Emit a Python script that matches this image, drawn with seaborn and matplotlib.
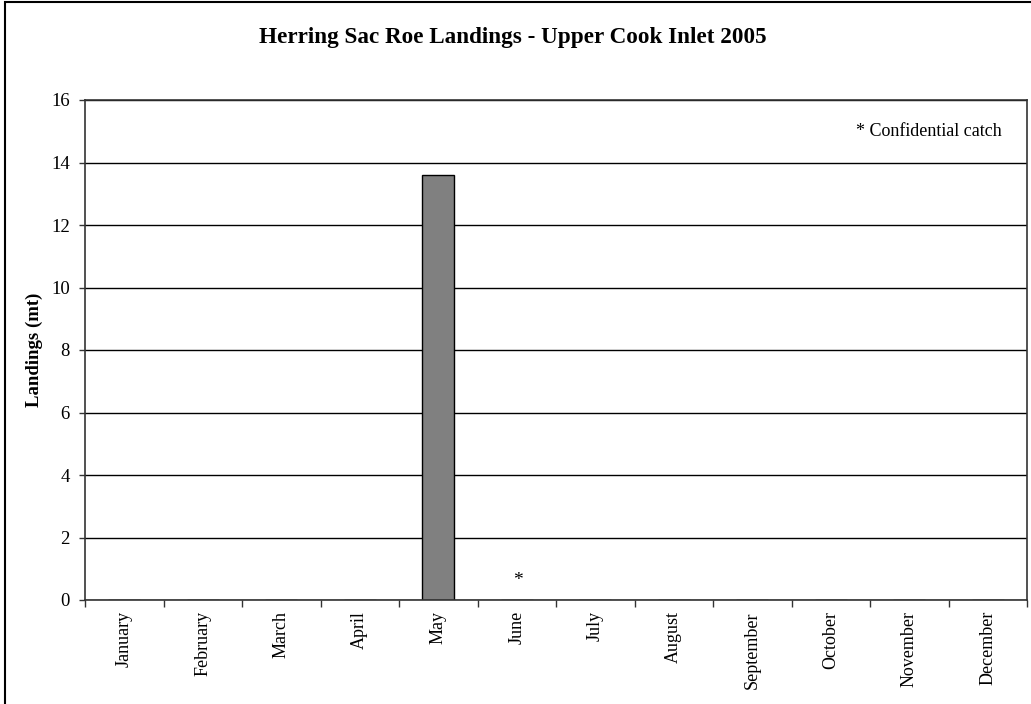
import matplotlib
matplotlib.use("Agg")
import matplotlib.pyplot as plt
import seaborn as sns
import pandas as pd
from matplotlib.patches import Rectangle
from matplotlib.ticker import FixedLocator

months = ["January", "February", "March", "April", "May", "June", "July",
          "August", "September", "October", "November", "December"]
landings = [0, 0, 0, 0, 13.6, 0, 0, 0, 0, 0, 0, 0]
confidential_months = ["June"]
title = "Herring Sac Roe Landings - Upper Cook Inlet 2005"
ylabel = "Landings (mt)"
note = "* Confidential catch"
yticks = [0, 2, 4, 6, 8, 10, 12, 14, 16]

sns.set_theme(style="white")
plt.rcParams['font.family'] = ['Liberation Serif', 'DejaVu Serif']
plt.rcParams['text.color'] = 'black'
plt.rcParams['xtick.color'] = 'black'
plt.rcParams['ytick.color'] = 'black'
plt.rcParams['axes.labelcolor'] = 'black'

df = pd.DataFrame({"month": months, "landings": landings})

fig = plt.figure(figsize=(10.31, 7.04), dpi=100)
ax = fig.add_axes([85/1031, 104/704, 942/1031, 500/704])

sns.barplot(data=df, x="month", y="landings", order=months, color="#808080",
            saturation=1, width=0.41, edgecolor="black", linewidth=1, ax=ax)

ax.set_ylim(0, 16)
ax.set_xlim(-0.5, len(months) - 0.5)
ax.set_yticks(yticks)
ax.set_yticklabels([str(v) for v in yticks], fontsize=13.5)
ax.yaxis.grid(True, color="black", linewidth=1)
ax.set_axisbelow(True)
ax.tick_params(axis="y", direction="out", length=4, width=1, color="#333333",
               pad=7, left=True)

ax.set_xticks(range(len(months)))
ax.set_xticklabels(months, rotation=90, fontsize=13)
ax.tick_params(axis="x", which="major", length=0, pad=8)
ax.xaxis.set_minor_locator(FixedLocator([i + 0.5 for i in range(-1, len(months))]))
ax.tick_params(axis="x", which="minor", direction="out", length=5, width=1,
               color="#333333", bottom=True)

for s in ax.spines.values():
    s.set_color("#333333")
    s.set_linewidth(1.2)

ax.set_xlabel("")
ax.set_ylabel(ylabel, fontsize=13.5, fontweight="bold", labelpad=6)

for m in confidential_months:
    ax.text(months.index(m) + 0.02, 0.35, "*", ha="center", va="bottom", fontsize=14)

ax.text(0.973, 0.936, note, transform=ax.transAxes, ha="right", va="center",
        fontsize=13)

fig.text(0.497, 1 - 38/704, title, ha="center", va="center", fontsize=16.7,
         fontweight="bold")

fig.patches.append(Rectangle((5/1031, -0.1), 1.2, 1 - 2/704 + 0.1,
                             transform=fig.transFigure, fill=False,
                             edgecolor="black", linewidth=1.5, zorder=10))

fig.savefig("out.png", dpi=100)
